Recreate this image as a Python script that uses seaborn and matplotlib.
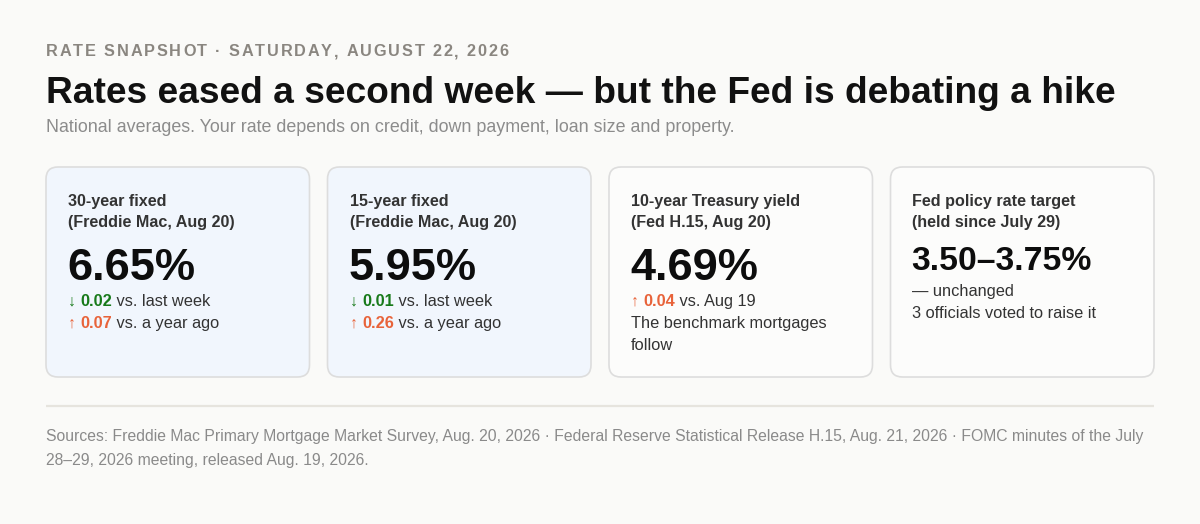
import matplotlib
matplotlib.use("Agg")
import matplotlib.pyplot as plt
import seaborn as sns
from matplotlib.patches import FancyBboxPatch

# ---- content ----
kicker = "RATE SNAPSHOT · SATURDAY, AUGUST 22, 2026"
headline = "Rates eased a second week — but the Fed is debating a hike"
subhead = "National averages. Your rate depends on credit, down payment, loan size and property."

card_titles = [
    ["30-year fixed", "(Freddie Mac, Aug 20)"],
    ["15-year fixed", "(Freddie Mac, Aug 20)"],
    ["10-year Treasury yield", "(Fed H.15, Aug 20)"],
    ["Fed policy rate target", "(held since July 29)"],
]
card_values = ["6.65%", "5.95%", "4.69%", "3.50–3.75%"]
card_shaded = [True, True, False, False]

# change rows: (arrow, amount, text)
week_changes = [("↓", "0.02", "vs. last week"), ("↓", "0.01", "vs. last week"),
                ("↑", "0.04", "vs. Aug 19"), None]
year_changes = [("↑", "0.07", "vs. a year ago"), ("↑", "0.26", "vs. a year ago"), None, None]
card_notes = [[], [], ["The benchmark mortgages", "follow"],
              ["— unchanged", "3 officials voted to raise it"]]

sources = ["Sources: Freddie Mac Primary Mortgage Market Survey, Aug. 20, 2026 · Federal Reserve Statistical Release H.15, Aug. 21, 2026 · FOMC minutes of the July",
           "28–29, 2026 meeting, released Aug. 19, 2026."]

# ---- style ----
sns.set_theme(style="white")
plt.rcParams['font.family'] = ['Liberation Sans', 'DejaVu Sans']

BG = "#fafaf8"
GREEN = "#187a1a"
ORANGE = "#e8633a"
DARK = "#333333"

fig = plt.figure(figsize=(12, 5.24), dpi=100, facecolor=BG)
ax = fig.add_axes([0, 0, 1, 1])
ax.set_xlim(0, 1200)
ax.set_ylim(524, 0)
ax.axis('off')
renderer = fig.canvas.get_renderer()


def width_of(t):
    return t.get_window_extent(renderer).width


def runs(x, y, parts):
    # parts: list of (text, color, weight, size)
    for txt, color, weight, size in parts:
        t = ax.text(x, y, txt, color=color, fontweight=weight, fontsize=size,
                    va='baseline', ha='left')
        x += width_of(t)
    return x


# kicker with letter spacing
x = 46
for ch in kicker:
    t = ax.text(x, 56.5, ch, color="#8a8680", fontweight='bold', fontsize=11.7,
                va='baseline', ha='left')
    x += width_of(t) + 1.83

ax.text(46, 103, headline, color="#111111", fontweight='bold', fontsize=26.7, va='baseline')
ax.text(46, 132, subhead, color="#8c8c8c", fontsize=12.9, va='baseline')

left, right, gap = 46, 1154, 18
cw = (right - left - 3 * gap) / 4
top, ch_ = 167, 210

for i in range(4):
    cx = left + i * (cw + gap)
    box = FancyBboxPatch((cx, top), cw, ch_, boxstyle="round,pad=0,rounding_size=12",
                         facecolor="#f1f6fd" if card_shaded[i] else "#fcfcfb",
                         edgecolor="#dddddd", linewidth=1.2)
    ax.add_patch(box)
    tx = cx + 22
    ax.text(tx, 206, card_titles[i][0], color=DARK, fontweight='bold', fontsize=11.6, va='baseline')
    ax.text(tx, 227, card_titles[i][1], color=DARK, fontweight='bold', fontsize=11.6, va='baseline')

    if i < 3:
        ax.text(tx - 1, 280, card_values[i], color="#0d0d0d", fontweight='bold', fontsize=32.5, va='baseline')
        yy = 306
    else:
        ax.text(tx - 1, 270, card_values[i], color="#0d0d0d", fontweight='bold', fontsize=24.3, va='baseline')
        yy = 296

    for chg in (week_changes[i], year_changes[i]):
        if chg is None:
            continue
        arrow, amt, rest = chg
        col = GREEN if arrow == "↓" else ORANGE
        runs(tx, yy, [(arrow + " ", col, 'normal', 11.5),
                      (amt, col, 'bold', 11.8),
                      (" " + rest, DARK, 'normal', 11.8)])
        yy += 22

    for note in card_notes[i]:
        ax.text(tx, yy, note, color=DARK, fontsize=11.8, va='baseline')
        yy += 22

ax.plot([46, 1154], [406, 406], color="#e6e4de", linewidth=1.6, solid_capstyle='butt')

ax.text(46, 441, sources[0], color="#8a8a8a", fontsize=11.3, va='baseline')
ax.text(46, 465, sources[1], color="#8a8a8a", fontsize=11.3, va='baseline')

fig.savefig("out.png", dpi=100, facecolor=BG)
